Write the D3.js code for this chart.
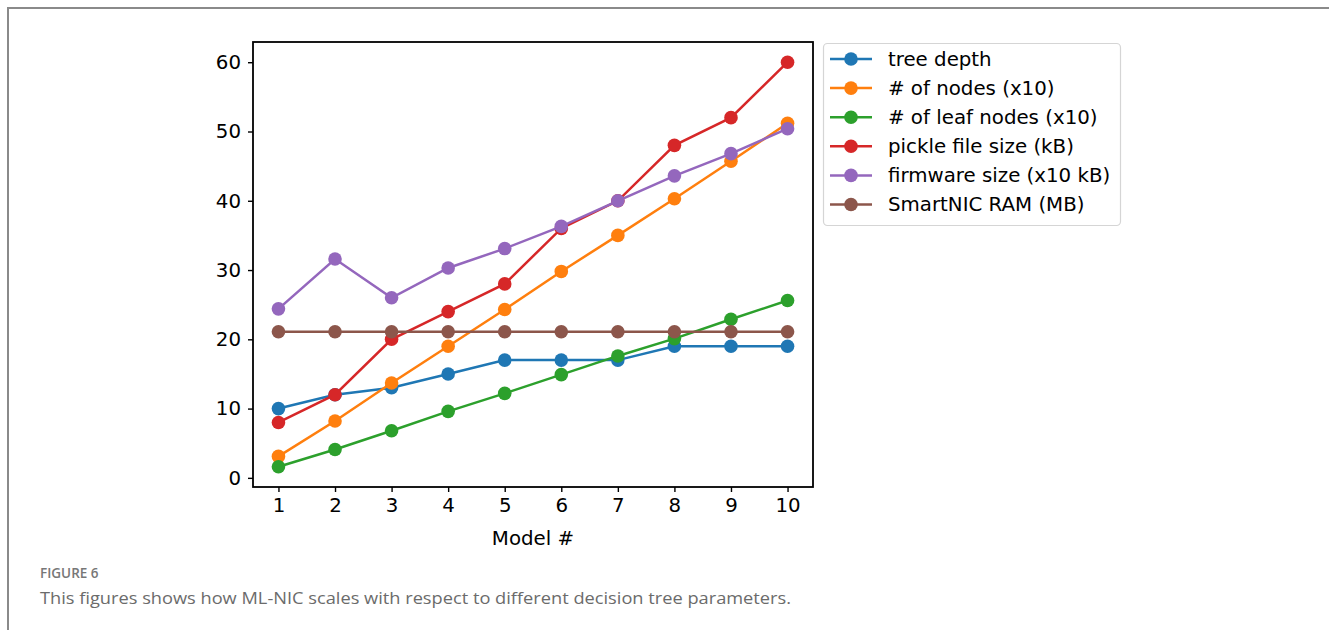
<!DOCTYPE html>
<html>
<head>
<meta charset="utf-8">
<script src="https://cdn.jsdelivr.net/npm/d3@7"></script>
<style>
  body { margin: 0; background: #fff; }
  svg { display: block; }
</style>
</head>
<body>
<svg id="chart" width="1329" height="630"></svg>
<script>
const models = [1, 2, 3, 4, 5, 6, 7, 8, 9, 10];
const treeDepth = [10, 12, 13, 15, 17, 17, 17, 19, 19, 19];
const numNodes = [3.1, 8.2, 13.7, 19.0, 24.3, 29.8, 35.0, 40.3, 45.7, 51.2];
const numLeaves = [1.6, 4.1, 6.8, 9.6, 12.2, 14.9, 17.6, 20.1, 22.9, 25.6];
const pickleSize = [8, 12, 20, 24, 28, 36, 40, 48, 52, 60];
const firmwareSize = [24.4, 31.6, 26.0, 30.3, 33.1, 36.3, 40.0, 43.6, 46.8, 50.4];
const smartnicRam = [21.1, 21.1, 21.1, 21.1, 21.1, 21.1, 21.1, 21.1, 21.1, 21.1];

const seriesNames = ["tree depth", "# of nodes (x10)", "# of leaf nodes (x10)",
    "pickle file size (kB)", "firmware size (x10 kB)", "SmartNIC RAM (MB)"];
const seriesValues = [treeDepth, numNodes, numLeaves, pickleSize, firmwareSize, smartnicRam];
const colors = ["#1f77b4", "#ff7f0e", "#2ca02c", "#d62728", "#9467bd", "#8c564b"];
const yTicks = [0, 10, 20, 30, 40, 50, 60];

const plot = {left: 253, right: 813, top: 42, bottom: 487};
const fontFam = "'DejaVu Sans', sans-serif";
const fs = 19.8;

const svg = d3.select("#chart");

// page frame
svg.append("path")
    .attr("d", "M8,630 L8,8 L1329,8")
    .attr("fill", "none")
    .attr("stroke", "#8a8a8a")
    .attr("stroke-width", 2);

const xScale = d3.scaleLinear().domain([0.55, 10.45]).range([plot.left, plot.right]);
const yScale = d3.scaleLinear().domain([-1.32, 62.92]).range([plot.bottom, plot.top]);

// axes
const xAxis = svg.append("g")
    .attr("transform", `translate(0,${plot.bottom})`)
    .call(d3.axisBottom(xScale).tickValues(models).tickSize(5).tickPadding(6).tickSizeOuter(0));
const yAxis = svg.append("g")
    .attr("transform", `translate(${plot.left},0)`)
    .call(d3.axisLeft(yScale).tickValues(yTicks).tickSize(5).tickPadding(7).tickSizeOuter(0));

[xAxis, yAxis].forEach(ax => {
    ax.select(".domain").remove();
    ax.selectAll(".tick line").attr("stroke", "#000").attr("stroke-width", 1.4);
    ax.selectAll(".tick text")
        .attr("font-family", fontFam)
        .attr("font-size", fs)
        .attr("fill", "#000");
});

// spines
svg.append("rect")
    .attr("x", plot.left)
    .attr("y", plot.top)
    .attr("width", plot.right - plot.left)
    .attr("height", plot.bottom - plot.top)
    .attr("fill", "none")
    .attr("stroke", "#000")
    .attr("stroke-width", 1.8);

svg.append("text")
    .attr("x", (plot.left + plot.right) / 2)
    .attr("y", 545)
    .attr("text-anchor", "middle")
    .attr("font-family", fontFam)
    .attr("font-size", fs)
    .text("Model #");

// series
const line = d3.line()
    .x((d, i) => xScale(models[i]))
    .y(d => yScale(d));

seriesValues.forEach((vals, s) => {
    const g = svg.append("g");
    g.append("path")
        .datum(vals)
        .attr("d", line)
        .attr("fill", "none")
        .attr("stroke", colors[s])
        .attr("stroke-width", 2.5);
    g.selectAll("circle")
        .data(vals)
        .enter()
        .append("circle")
        .attr("cx", (d, i) => xScale(models[i]))
        .attr("cy", d => yScale(d))
        .attr("r", 6.8)
        .attr("fill", colors[s]);
});

// legend
const legend = svg.append("g");
legend.append("rect")
    .attr("x", 823.5)
    .attr("y", 43.5)
    .attr("width", 297)
    .attr("height", 182)
    .attr("rx", 4)
    .attr("fill", "#fff")
    .attr("fill-opacity", 0.8)
    .attr("stroke", "#d5d5d5")
    .attr("stroke-width", 1.2);

seriesNames.forEach((name, i) => {
    const y = 59 + i * 29.1;
    legend.append("line")
        .attr("x1", 830).attr("x2", 872)
        .attr("y1", y).attr("y2", y)
        .attr("stroke", colors[i])
        .attr("stroke-width", 2.5);
    legend.append("circle")
        .attr("cx", 851).attr("cy", y)
        .attr("r", 6.8)
        .attr("fill", colors[i]);
    legend.append("text")
        .attr("x", 888)
        .attr("y", y)
        .attr("dy", "0.35em")
        .attr("font-family", fontFam)
        .attr("font-size", fs)
        .attr("fill", "#000")
        .text(name);
});

// caption
svg.append("text")
    .attr("x", 40)
    .attr("y", 578)
    .attr("font-family", "'Open Sans', sans-serif")
    .attr("font-size", 13.5)
    .attr("font-weight", 600)
    .attr("fill", "#777")
    .text("FIGURE 6");
svg.append("text")
    .attr("x", 40)
    .attr("y", 604)
    .attr("font-family", "'Open Sans', sans-serif")
    .attr("font-size", 16)
    .attr("fill", "#6b6b6b")
    .attr("textLength", 751)
    .attr("lengthAdjust", "spacingAndGlyphs")
    .text("This figures shows how ML-NIC scales with respect to different decision tree parameters.");
</script>
</body>
</html>
